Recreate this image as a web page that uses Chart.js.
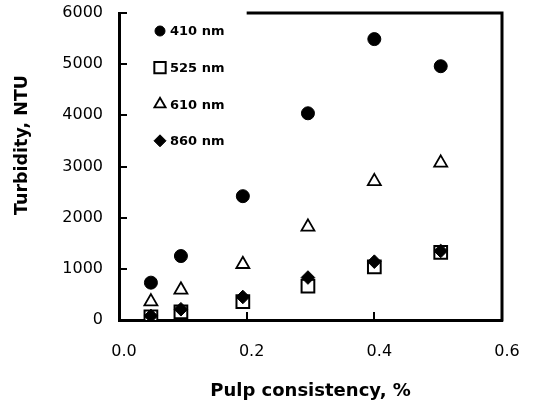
<!DOCTYPE html>
<html>
<head>
<meta charset="utf-8">
<script src="https://cdn.jsdelivr.net/npm/chart.js@4.4.0/dist/chart.umd.min.js"></script>
<style>
  html, body { margin: 0; padding: 0; background: #fff; }
</style>
</head>
<body>
<canvas id="turbidityChart" width="533" height="406"></canvas>
<script>
// pulp consistency (%) where the samples were measured
const consistency = [0.05, 0.097, 0.194, 0.296, 0.4, 0.504];

// turbidity (NTU) per wavelength
const nm410 = [730, 1250, 2420, 4040, 5490, 4960];
const nm525 = [60, 160, 360, 660, 1040, 1320];
const nm610 = [360, 590, 1090, 1820, 2710, 3070];
const nm860 = [80, 210, 450, 830, 1140, 1350];

const seriesLabels = ['410 nm', '525 nm', '610 nm', '860 nm'];
const xTickValues = [0, 0.2, 0.4, 0.6];
const yTickValues = [0, 1000, 2000, 3000, 4000, 5000, 6000];
const yTitle = 'Turbidity, NTU';

Chart.defaults.font.family = '"DejaVu Sans", Arial, sans-serif';
Chart.defaults.color = '#000';

function toPoints(values) {
    return values.map((v, i) => ({ x: consistency[i], y: v }));
}

function drawMarker(ctx, ds, radius, x, y) {
    ctx.fillStyle = ds.pointBackgroundColor;
    ctx.strokeStyle = ds.pointBorderColor;
    ctx.lineWidth = ds.pointBorderWidth;
    Chart.helpers.drawPoint(ctx, {
        pointStyle: ds.pointStyle,
        radius: radius,
        rotation: 0,
        borderWidth: ds.pointBorderWidth
    }, x, y);
}

// right edge, partial top edge and the inward ticks
const framePlugin = {
    id: 'frame',
    beforeDatasetsDraw(chart) {
        const { ctx, chartArea: a, scales: { x, y } } = chart;
        ctx.save();
        ctx.strokeStyle = '#000';
        ctx.lineWidth = 3;
        ctx.beginPath();
        ctx.moveTo(a.right, a.bottom + 1.5);
        ctx.lineTo(a.right, a.top);
        ctx.moveTo(x.getPixelForValue(0.2), a.top);
        ctx.lineTo(a.right + 1.5, a.top);
        ctx.stroke();

        ctx.lineWidth = 2;
        ctx.beginPath();
        y.ticks.forEach(t => {
            const py = Math.round(y.getPixelForValue(t.value));
            ctx.moveTo(a.left, py);
            ctx.lineTo(a.left + 8, py);
        });
        x.ticks.forEach(t => {
            const px = Math.round(x.getPixelForValue(t.value));
            ctx.moveTo(px, a.bottom);
            ctx.lineTo(px, a.bottom - 8);
        });
        ctx.stroke();

        // y title sits a bit above the middle of the axis
        ctx.translate(22, y.getPixelForValue(3420));
        ctx.rotate(-Math.PI / 2);
        ctx.fillStyle = '#000';
        ctx.font = 'bold 17.5px "DejaVu Sans", Arial, sans-serif';
        ctx.textAlign = 'center';
        ctx.textBaseline = 'middle';
        ctx.fillText(yTitle, 0, 0);
        ctx.restore();
    }
};

// legend sits inside the plot, top left
const legendPlugin = {
    id: 'innerLegend',
    afterDatasetsDraw(chart) {
        const { ctx, chartArea: a } = chart;
        chart.data.datasets.forEach((ds, i) => {
            const cx = a.left + 41;
            const cy = a.top + 18 + i * 36.6;
            ctx.save();
            drawMarker(ctx, ds, ds.legendRadius, cx, cy);
            ctx.fillStyle = '#000';
            ctx.font = 'bold 13px "DejaVu Sans", Arial, sans-serif';
            ctx.textBaseline = 'middle';
            ctx.fillText(ds.label, cx + 10, cy + 1);
            ctx.restore();
        });
    }
};

new Chart(document.getElementById('turbidityChart'), {
    type: 'scatter',
    data: {
        datasets: [{
            label: seriesLabels[0],
            data: toPoints(nm410),
            pointStyle: 'circle',
            pointRadius: 6.5,
            legendRadius: 5,
            pointBackgroundColor: '#000',
            pointBorderColor: '#000',
            pointBorderWidth: 1,
            order: 0
        }, {
            label: seriesLabels[1],
            data: toPoints(nm525),
            pointStyle: 'rect',
            pointRadius: 9,
            legendRadius: 8,
            pointBackgroundColor: '#fff',
            pointBorderColor: '#000',
            pointBorderWidth: 2,
            order: 3
        }, {
            label: seriesLabels[2],
            data: toPoints(nm610),
            pointStyle: 'triangle',
            pointRadius: 7.5,
            legendRadius: 6.5,
            pointBackgroundColor: '#fff',
            pointBorderColor: '#000',
            pointBorderWidth: 1.8,
            order: 2
        }, {
            label: seriesLabels[3],
            data: toPoints(nm860),
            pointStyle: 'rectRot',
            pointRadius: 6.8,
            legendRadius: 6,
            pointBackgroundColor: '#000',
            pointBorderColor: '#000',
            pointBorderWidth: 1,
            order: 1
        }]
    },
    options: {
        responsive: false,
        animation: false,
        devicePixelRatio: 1,
        layout: { padding: { top: 13, right: 31, left: 0, bottom: 0 } },
        plugins: {
            legend: { display: false },
            tooltip: { enabled: false }
        },
        scales: {
            x: {
                type: 'linear',
                min: 0,
                max: 0.6,
                afterBuildTicks: scale => { scale.ticks = xTickValues.map(v => ({ value: v })); },
                afterFit: scale => {
                    scale.height = 86;
                    scale.paddingLeft = 0;
                    scale.paddingRight = 0;
                },
                ticks: {
                    font: { size: 16 },
                    padding: 22,
                    labelOffset: 5,
                    callback: v => v.toFixed(1)
                },
                grid: { display: true, drawOnChartArea: false, drawTicks: false },
                border: { display: true, color: '#000', width: 3 },
                title: {
                    display: true,
                    text: 'Pulp consistency, %',
                    font: { size: 18, weight: 'bold' },
                    padding: { top: 0, bottom: 4 }
                }
            },
            y: {
                min: 0,
                max: 6000,
                afterBuildTicks: scale => { scale.ticks = yTickValues.map(v => ({ value: v })); },
                afterFit: scale => {
                    scale.width = 119;
                    scale.paddingTop = 0;
                    scale.paddingBottom = 0;
                },
                ticks: {
                    font: { size: 16 },
                    padding: 16,
                    callback: v => String(v)
                },
                grid: { display: true, drawOnChartArea: false, drawTicks: false },
                border: { display: true, color: '#000', width: 3 }
            }
        }
    },
    plugins: [framePlugin, legendPlugin]
});
</script>
</body>
</html>
